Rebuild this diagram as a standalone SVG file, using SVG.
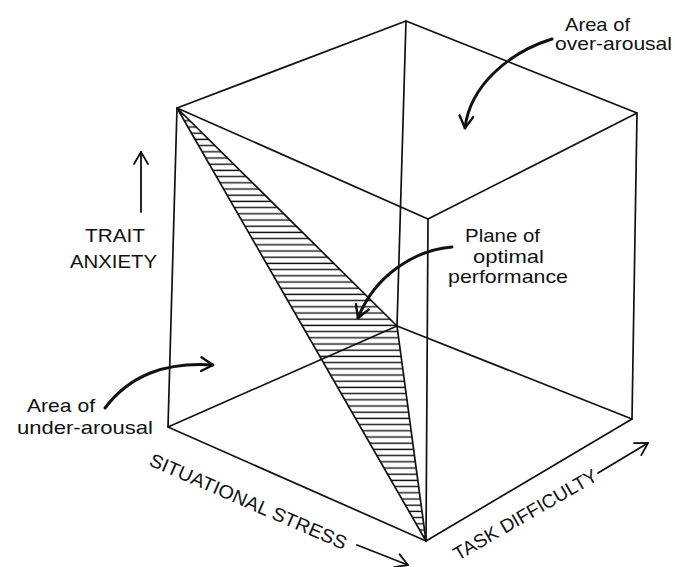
<svg xmlns="http://www.w3.org/2000/svg" width="675" height="567" viewBox="0 0 675 567">
  <style>
    .edge { stroke: #111; stroke-width: 1.7; fill: none; stroke-linecap: round; stroke-linejoin: round; }
    .curve { stroke: #111; stroke-width: 3; fill: none; stroke-linecap: round; }
    .straight { stroke: #111; stroke-width: 1.8; fill: none; stroke-linecap: round; }
    .lbl { font-family: "Liberation Sans", Arial, sans-serif; font-size: 19px; fill: #111; }
    .axis { font-family: "Liberation Sans", Arial, sans-serif; font-size: 19px; fill: #111; }
  </style>
  <defs>
    <pattern id="hatch" patternUnits="userSpaceOnUse" width="20" height="6.2">
      <line x1="0" y1="3" x2="20" y2="3" stroke="#111" stroke-width="1.4"/>
    </pattern>
    <marker id="vhead" markerUnits="userSpaceOnUse" viewBox="0 0 14 16" refX="13" refY="8" markerWidth="14" markerHeight="16" orient="auto">
      <path d="M1,1 L13,8 L1,15" fill="none" stroke="#111" stroke-width="2.4" stroke-linecap="round" stroke-linejoin="round"/>
    </marker>
    <marker id="vthin" markerUnits="userSpaceOnUse" viewBox="0 0 14 16" refX="13" refY="8" markerWidth="14" markerHeight="16" orient="auto">
      <path d="M1,1 L13,8 L1,15" fill="none" stroke="#111" stroke-width="1.8" stroke-linecap="round" stroke-linejoin="round"/>
    </marker>
  </defs>
  <rect width="675" height="567" fill="#ffffff"/>

  <g id="plane">
    <polygon points="177,108 397,326 426,541" fill="url(#hatch)" stroke="#111" stroke-width="1.7" stroke-linejoin="round"/>
  </g>

  <g id="cube">
    <path class="edge" d="M177,108 L406,21 L637,113 L428,219 Z"/>
    <path class="edge" d="M177,108 L168,427"/>
    <path class="edge" d="M406,21 L397,326"/>
    <path class="edge" d="M637,113 L632,419"/>
    <path class="edge" d="M428,219 L426,541"/>
    <path class="edge" d="M168,427 L426,541 L632,419 L397,326 Z"/>
  </g>

  <g id="connectors">
    <path id="arrow-over" class="curve" d="M552,39 C510,52 470,85 465,128" marker-end="url(#vhead)"/>
    <path id="arrow-plane" class="curve" d="M452,247 C415,250 375,275 358,318" marker-end="url(#vhead)"/>
    <path id="arrow-under" class="curve" d="M105,408 C130,375 165,362 213,365" marker-end="url(#vhead)"/>
    <path id="arrow-trait" class="straight" d="M141,212 L141,152" marker-end="url(#vthin)"/>
    <path id="arrow-stress" class="straight" d="M357,545 L408,565" marker-end="url(#vthin)"/>
    <path id="arrow-task" class="straight" d="M598,473 L648,443" marker-end="url(#vthin)"/>
  </g>

  <g id="label-over">
    <text class="lbl" x="565" y="31" textLength="65" lengthAdjust="spacingAndGlyphs">Area of</text>
    <text class="lbl" x="555" y="50" textLength="117" lengthAdjust="spacingAndGlyphs">over-arousal</text>
  </g>

  <g id="label-plane">
    <text class="lbl" x="465" y="242" textLength="75" lengthAdjust="spacingAndGlyphs">Plane of</text>
    <text class="lbl" x="473" y="263" textLength="71" lengthAdjust="spacingAndGlyphs">optimal</text>
    <text class="lbl" x="448" y="283" textLength="120" lengthAdjust="spacingAndGlyphs">performance</text>
  </g>

  <g id="label-under">
    <text class="lbl" x="27" y="412" textLength="68" lengthAdjust="spacingAndGlyphs">Area of</text>
    <text class="lbl" x="17" y="434" textLength="136" lengthAdjust="spacingAndGlyphs">under-arousal</text>
  </g>

  <g id="label-trait">
    <text class="lbl" x="85" y="242" textLength="60" lengthAdjust="spacingAndGlyphs">TRAIT</text>
    <text class="lbl" x="70" y="268" textLength="87" lengthAdjust="spacingAndGlyphs">ANXIETY</text>
  </g>

  <g id="label-stress">
    <text class="axis" transform="translate(148,465) rotate(23.5)" textLength="213" lengthAdjust="spacingAndGlyphs">SITUATIONAL STRESS</text>
  </g>

  <g id="label-task">
    <text class="axis" transform="translate(458,561) rotate(-30)" textLength="163" lengthAdjust="spacingAndGlyphs">TASK DIFFICULTY</text>
  </g>
</svg>
